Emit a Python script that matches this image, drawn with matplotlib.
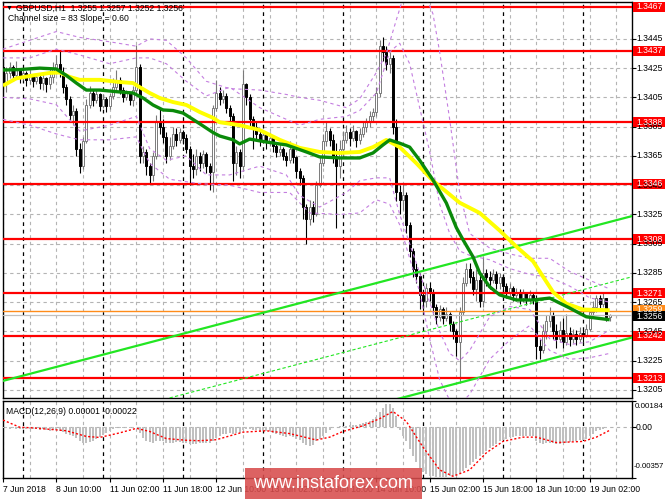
import numpy as np
import matplotlib
matplotlib.use('Agg')
import matplotlib.pyplot as plt
from matplotlib.patches import Rectangle

plt.rcParams['font.family'] = ['Liberation Sans', 'DejaVu Sans']

BASE = 1.3200  # prices below are pips above this

# GBPUSD H1 candles, 7 Jun 18:00 .. 19 Jun 08:00 (pips above 1.3200)
opens_p = [226, 214, 222, 226, 220, 224, 219, 222, 217, 220, 216, 219, 215, 218, 214, 219, 225, 228, 222, 212,
           204, 193, 196, 170, 158, 175, 200, 208, 203, 207, 199, 204, 199, 206, 212, 217, 210, 205, 208, 203,
           210, 226, 165, 168, 158, 152, 165, 188, 185, 178, 165, 172, 180, 176, 181, 177, 170, 158, 156, 165,
           160, 166, 158, 154, 198, 208, 204, 206, 198, 192, 160, 168, 158, 214, 205, 190, 185, 180, 176, 179,
           175, 177, 172, 168, 170, 165, 162, 170, 164, 155, 150, 130, 122, 130, 125, 145, 160, 175, 182, 176,
           165, 158, 170, 176, 181, 177, 182, 176, 180, 185, 188, 192, 195, 208, 240, 236, 228, 232, 185, 140,
           135, 138, 118, 100, 88, 83, 70, 66, 75, 72, 62, 55, 60, 54, 57, 50, 45, 38, 58, 78,
           88, 82, 74, 80, 66, 85, 82, 80, 84, 78, 82, 76, 72, 75, 70, 72, 68, 71, 67, 70,
           68, 35, 32, 45, 52, 56, 45, 40, 46, 38, 44, 40, 43, 40, 44, 42, 47, 58, 62, 68,
           64, 68, 55]
closes_p = [214, 222, 226, 220, 224, 219, 222, 217, 220, 216, 219, 215, 218, 214, 219, 225, 228, 222, 212, 204,
            193, 196, 170, 158, 175, 200, 208, 203, 207, 199, 204, 199, 206, 212, 217, 210, 205, 208, 203, 210,
            226, 165, 168, 158, 152, 165, 188, 185, 178, 165, 172, 180, 176, 181, 177, 170, 158, 156, 165, 160,
            166, 158, 154, 198, 208, 204, 206, 198, 192, 160, 168, 158, 214, 205, 190, 185, 180, 176, 179, 175,
            177, 172, 168, 170, 165, 162, 170, 164, 155, 150, 130, 122, 130, 125, 145, 160, 175, 182, 176, 165,
            158, 170, 176, 181, 177, 182, 176, 180, 185, 188, 192, 195, 208, 240, 236, 228, 232, 185, 140, 135,
            138, 118, 100, 88, 83, 70, 66, 75, 72, 62, 55, 60, 54, 57, 50, 45, 38, 58, 78, 88,
            82, 74, 80, 66, 85, 82, 80, 84, 78, 82, 76, 72, 75, 70, 72, 68, 71, 67, 70, 68,
            35, 32, 45, 52, 56, 45, 40, 46, 38, 44, 40, 43, 40, 44, 42, 47, 58, 62, 68, 64,
            68, 55, 56]
highs_p = [231, 226, 229, 227, 230, 225, 225, 223, 224, 221, 222, 220, 222, 219, 225, 229, 234, 237, 226, 214,
           206, 200, 198, 174, 178, 204, 213, 210, 210, 208, 207, 205, 208, 218, 224, 219, 212, 210, 209, 213,
           241, 228, 172, 170, 160, 168, 193, 197, 190, 181, 178, 185, 184, 184, 183, 180, 172, 166, 170, 168,
           169, 168, 160, 200, 217, 212, 210, 208, 200, 194, 172, 170, 224, 215, 207, 192, 188, 182, 182, 180,
           181, 178, 174, 173, 171, 168, 175, 172, 165, 157, 152, 132, 135, 134, 148, 165, 180, 188, 184, 180,
           174, 176, 182, 186, 184, 186, 183, 184, 188, 191, 196, 198, 212, 244, 246, 240, 236, 234, 190, 145,
           146, 140, 120, 102, 92, 85, 72, 78, 79, 74, 64, 63, 62, 62, 58, 52, 47, 62, 82, 92,
           92, 86, 88, 84, 96, 88, 86, 88, 86, 85, 84, 78, 78, 76, 75, 74, 74, 72, 73, 72,
           70, 40, 50, 56, 62, 58, 50, 52, 54, 57, 48, 47, 46, 48, 46, 50, 60, 66, 70, 70,
           71, 68, 57]
lows_p = [211, 209, 218, 216, 218, 215, 217, 213, 214, 212, 214, 211, 210, 209, 211, 215, 221, 219, 208, 200,
          188, 186, 165, 153, 156, 174, 198, 199, 201, 196, 198, 195, 197, 204, 210, 207, 202, 203, 200, 199,
          208, 160, 160, 152, 146, 148, 163, 180, 174, 160, 162, 170, 172, 174, 173, 167, 145, 150, 152, 155,
          157, 153, 142, 140, 196, 200, 201, 194, 186, 148, 152, 150, 155, 200, 184, 170, 176, 172, 174, 170,
          172, 168, 164, 165, 162, 158, 160, 160, 150, 145, 122, 105, 118, 120, 124, 144, 158, 172, 172, 160,
          116, 150, 165, 174, 172, 175, 171, 173, 178, 181, 185, 188, 192, 205, 230, 224, 222, 180, 134, 125,
          128, 112, 96, 82, 78, 60, 58, 62, 66, 57, 50, 52, 50, 52, 45, 40, 28, 10, 56, 76,
          78, 70, 66, 62, 62, 76, 74, 78, 74, 74, 72, 68, 68, 66, 66, 64, 65, 63, 64, 64,
          26, 26, 30, 40, 48, 40, 34, 38, 34, 36, 35, 37, 36, 38, 38, 41, 45, 55, 58, 60,
          62, 52, 52]

# moving averages (bar index, pips)
yellow_idx = [0, 4, 9, 14, 17, 20, 23, 29, 35, 39, 41, 44, 47, 51, 55, 59, 63, 65, 71, 77, 83, 89, 95, 101,
              107, 111, 115, 119, 124, 129, 137, 143, 149, 154, 159, 165, 169, 174, 182]
yellow_p = [213, 218, 220, 221.7, 222, 219, 217, 217, 215.5, 214.8, 212, 208, 204.6, 201.8, 199.8, 195, 191,
            188, 186, 182.7, 176, 170.5, 167.7, 167, 167.7, 171, 175.9, 171, 160, 148, 133, 126, 114, 103, 93,
            72, 64, 60, 59.5]
green_idx = [0, 5, 11, 16, 19, 22, 25, 29, 35, 39, 42, 45, 48, 51, 54, 59, 63, 65, 69, 71, 74, 79, 85, 91,
             95, 101, 107, 111, 114, 116, 119, 122, 125, 129, 133, 136, 138, 141, 143, 146, 149, 154, 159, 164,
             170, 175, 182]
green_p = [223.7, 224, 225, 224.4, 220, 214.8, 210, 210, 208.7, 208, 204.6, 199.8, 196.4, 196, 194.3, 187,
           181, 178.6, 176, 173.2, 176.5, 174.5, 172.5, 167.7, 164.3, 163.6, 163.6, 167, 172.5, 175.9, 173.7,
           171, 162, 148.5, 132.8, 116, 107.7, 96, 85, 75.5, 70, 66.5, 66.5, 67.8, 61, 55, 53]

# purple dashed bands (bar index, pips)
outer_up_idx = [0, 8, 16, 23, 32, 40, 44, 49, 55, 61, 68, 77, 85, 89, 95, 103, 107, 112, 115, 118, 121, 125,
                129, 131, 134, 137, 140, 146, 152, 158, 164, 170, 176, 182]
outer_up_p = [238, 244, 250, 246, 243, 240, 245, 244, 232, 216, 211, 210, 207, 205, 203, 198, 204, 222, 235,
              258, 280, 285, 262, 236, 190, 140, 112, 102, 98, 95, 95, 86, 80, 74]
outer_lo_idx = [0, 8, 16, 23, 32, 40, 44, 50, 59, 68, 77, 86, 92, 101, 107, 112, 116, 119, 122, 125, 128, 131,
                134, 137, 140, 146, 152, 158, 164, 170, 176, 182]
outer_lo_p = [190, 186, 180, 176, 176, 178, 160, 149, 146, 145, 140, 140, 126, 125, 126, 135, 132, 118, 95, 72,
              40, 12, -2, -5, 2, 26, 39, 49, 32, 26, 27, 30]
inner_up_idx = [0, 8, 16, 23, 32, 40, 44, 49, 55, 61, 68, 77, 85, 89, 95, 103, 107, 112, 116, 119, 122, 125,
                128, 131, 134, 137, 140, 146, 152, 158, 164, 170, 176, 182]
inner_up_p = [232, 232, 238, 234, 228, 232, 232, 228, 216, 206, 212, 198, 190, 186, 190, 192, 196, 208, 236,
              242, 228, 198, 168, 132, 112, 100, 97, 94, 88, 84, 82, 76, 68, 65]
inner_lo_idx = [0, 8, 16, 23, 32, 40, 44, 49, 55, 61, 68, 77, 85, 89, 95, 103, 107, 112, 116, 119, 122, 125,
                128, 131, 134, 137, 140, 146, 152, 158, 164, 170, 176, 182]
inner_lo_p = [205, 204, 200, 182, 186, 192, 170, 162, 165, 152, 152, 158, 152, 138, 130, 140, 148, 150, 150,
              125, 105, 85, 65, 45, 30, 25, 32, 55, 62, 60, 40, 36, 38, 46]

# MACD(12,26,9) main as histogram, in 1e-5
macd_hist = [-5, -8, -10, -8, -10, -12, -10, -12, -15, -12, -15, -18, -15, -20, -25, -22, -20, -25, -35, -45,
             -55, -62, -75, -95, -108, -110, -105, -95, -85, -70, -55, -40, -25, -15, -8, -5, -5, -8, -6, -3,
             -2, -40, -75, -95, -105, -108, -100, -98, -100, -108, -110, -108, -105, -105, -108, -110, -115,
             -118, -115, -112, -110, -110, -112, -95, -75, -60, -50, -45, -40, -45, -40, -38, -20, -15, -15,
             -20, -22, -25, -25, -25, -28, -40, -50, -55, -62, -68, -65, -70, -80, -90, -110, -128, -130, -125,
             -100, -80, -60, -40, -20, -5, 0, 5, 8, 10, 12, 15, 18, 22, 28, 35, 45, 55, 75, 105, 135, 160, 165,
             135, 80, -20, -60, -100, -150, -200, -245, -285, -315, -330, -340, -345, -348, -350, -350, -348,
             -345, -340, -338, -325, -305, -285, -265, -245, -225, -205, -185, -165, -148, -130, -115, -100,
             -90, -80, -72, -68, -65, -62, -60, -60, -62, -65, -95, -110, -115, -112, -110, -112, -115, -115,
             -112, -110, -105, -100, -95, -92, -88, -80, -60, -45, -30, -20, -12, -5, 1]
signal_idx = [0, 5, 9, 19, 25, 29, 35, 40, 44, 49, 55, 59, 64, 72, 79, 86, 94, 98, 102, 108, 113, 117, 121,
              126, 131, 135, 140, 145, 150, 156, 160, 166, 174, 178, 182]
signal_v = [50, 0, -5, -25, -65, -72, -40, -8, -30, -80, -92, -95, -88, -35, -25, -45, -90, -70, -30, 10, 60,
            110, 40, -140, -300, -345, -300, -180, -100, -70, -70, -108, -100, -70, -22]

levels = [1.3467, 1.3437, 1.3388, 1.3346, 1.3308, 1.3271, 1.3242, 1.3213]
grid_prices = [1.3205, 1.3225, 1.3245, 1.3265, 1.3285, 1.3305, 1.3325, 1.3345, 1.3365, 1.3385, 1.3405,
               1.3425, 1.3445]
time_idx = [0, 16, 32, 48, 64, 80, 96, 112, 128, 144, 160, 176]
time_labels = ['7 Jun 2018', '8 Jun 10:00', '11 Jun 02:00', '11 Jun 18:00', '12 Jun 10:00', '13 Jun 02:00',
               '13 Jun 18:00', '14 Jun 10:00', '15 Jun 02:00', '15 Jun 18:00', '18 Jun 10:00', '19 Jun 02:00']
day_sep_idx = [6, 30, 54, 78, 102, 126, 150, 174]

chan_start = 1.32112   # upper channel line at first bar
chan_slope = 0.0000597  # per bar
chan_size = 0.0083

o = BASE + np.array(opens_p) / 1e4
c = BASE + np.array(closes_p) / 1e4
h = BASE + np.array(highs_p) / 1e4
l = BASE + np.array(lows_p) / 1e4
idx = np.arange(len(c))

W, H = 665, 499
fig = plt.figure(figsize=(W / 100, H / 100), dpi=100)
fig.patch.set_facecolor('white')


def px_axes(x0, y0, x1, y1):
    return fig.add_axes([x0 / W, 1 - y1 / H, (x1 - x0) / W, (y1 - y0) / H])


ax = px_axes(3, 2, 632, 398)
axm = px_axes(3, 401, 632, 478)
XMAX = 188.7
for a in (ax, axm):
    a.set_xlim(0, XMAX)
    for s in a.spines.values():
        s.set_color('black')
        s.set_linewidth(1)
ax.set_ylim(1.31995, 1.34702)
axm.set_ylim(-0.00357, 0.00184)

# grids and separators
for a in (ax, axm):
    for g in range(0, 190, 8):
        a.axvline(g, color='#b4b4b4', lw=0.8, ls=(0, (3, 3)), zorder=1)
    for d in day_sep_idx:
        a.axvline(d, color='black', lw=0.9, ls=(0, (3, 3)), zorder=1.2)
for gp in grid_prices:
    ax.axhline(gp, color='#b4b4b4', lw=0.8, ls=(0, (3, 3)), zorder=1)
axm.axhline(0, color='#b4b4b4', lw=0.8, ls=(0, (3, 3)), zorder=1)

# candles
up = c >= o
ax.vlines(idx[up], l[up], h[up], colors='#7a7a7a', lw=0.8, zorder=3)
ax.vlines(idx[~up], l[~up], h[~up], colors='black', lw=0.8, zorder=3)
body_b = np.minimum(o, c)
body_h = np.maximum(np.abs(c - o), 0.00002)
ax.bar(idx[up], body_h[up], bottom=body_b[up], width=0.62, color='white', edgecolor='#7a7a7a',
       linewidth=0.7, zorder=4)
ax.bar(idx[~up], body_h[~up], bottom=body_b[~up], width=0.62, color='black', edgecolor='black',
       linewidth=0.7, zorder=4)

# horizontal levels
for lv in levels:
    ax.axhline(lv, color='#ff0000', lw=1.6, zorder=5)
ax.axhline(1.3259, color='#ff8c1a', lw=1.0, zorder=5)
ax.axhline(1.3256, color='#c0c0c0', lw=0.9, zorder=5)

# regression channel
xs = np.array([0, XMAX])
upper = chan_start + chan_slope * xs
ax.plot(xs, upper, color='#22e622', lw=1.6, zorder=6)
ax.plot(xs, upper - chan_size, color='#22e622', lw=1.6, zorder=6)
ax.plot(xs, upper - chan_size / 2, color='#22e622', lw=0.8, ls=(0, (3, 2)), zorder=6)

# bands
band_col = '#c47ee0'
for bi, bp in ((outer_up_idx, outer_up_p), (outer_lo_idx, outer_lo_p),
               (inner_up_idx, inner_up_p), (inner_lo_idx, inner_lo_p)):
    ax.plot(bi, BASE + np.array(bp) / 1e4, color=band_col, lw=0.8, ls=(0, (3, 3)), zorder=6)

# moving averages
ax.plot(yellow_idx, BASE + np.array(yellow_p) / 1e4, color='#ffff00', lw=2.8, zorder=7,
        solid_capstyle='butt')
ax.plot(green_idx, BASE + np.array(green_p) / 1e4, color='#0a8a0a', lw=2.4, zorder=7,
        solid_capstyle='butt')

# MACD
axm.bar(idx, np.array(macd_hist) / 1e5, width=0.6, color='#c0c0c0', zorder=3)
axm.plot(signal_idx, np.array(signal_v) / 1e5, color='#ff0000', lw=1.0, ls=(0, (1.5, 1.5)), zorder=4)

# ticks
ax.set_xticks([])
ax.yaxis.tick_right()
ax.set_yticks(grid_prices)
ax.set_yticklabels([])
ax.tick_params(axis='y', length=3, width=0.8, color='black')
axm.yaxis.tick_right()
axm.set_yticks([-0.00357, 0, 0.00184])
axm.set_yticklabels([])
axm.tick_params(axis='y', length=3, width=0.8)
axm.set_xticks(time_idx)
axm.set_xticklabels(time_labels, ha='left', fontsize=6.2)
axm.tick_params(axis='x', length=3, width=0.8, pad=2)

# overlay for price labels, header and watermark (pixel coordinates)
ov = fig.add_axes([0, 0, 1, 1])
ov.set_xlim(0, W)
ov.set_ylim(H, 0)
ov.axis('off')
ov.set_zorder(10)


def ypx(a, v):
    return H - a.transData.transform((0, v))[1]


for gp in grid_prices:
    ov.text(636, ypx(ax, gp), '%.4f' % gp, fontsize=6.2, va='center', ha='left', color='black')


def price_box(y, txt, fc):
    ov.add_patch(Rectangle((633, y - 5), 32, 10, facecolor=fc, edgecolor='none'))
    ov.text(636, y, txt, fontsize=6.2, va='center', ha='left', color='white')


for lv in levels:
    price_box(ypx(ax, lv), '%.4f' % lv, '#ff0000')
price_box(ypx(ax, 1.3259) - 1, '1.3259', '#ff8c1a')
price_box(ypx(ax, 1.3256) + 1, '1.3256', 'black')

ov.text(635, ypx(axm, 0.00184) + 5, '0.00184', fontsize=5.8, va='center', ha='left')
ov.text(636, ypx(axm, 0), '0.00', fontsize=6.2, va='center', ha='left')
ov.text(634, ypx(axm, -0.00357) - 11, '-0.00357', fontsize=5.6, va='center', ha='left')

ov.text(6, 8, '\u25bc', fontsize=5, va='center', ha='left', color='black')
ov.text(16, 8, 'GBPUSD,H1  1.3255 1.3257 1.3252 1.3256', fontsize=6.2, va='center', ha='left')
ov.text(8, 18.5, 'Channel size = 83 Slope = 0.60', fontsize=6.2, va='center', ha='left')
ov.text(6, 411, 'MACD(12,26,9) 0.00001 -0.00022', fontsize=6.2, va='center', ha='left')

ov.add_patch(Rectangle((245, 468), 177, 32, facecolor='#d84c4c', edgecolor='none', alpha=0.88))
ov.text(333, 484, 'www.instaforex.com', fontsize=13, va='center', ha='center', color='white')

fig.savefig('out.png', dpi=100, facecolor='white')
